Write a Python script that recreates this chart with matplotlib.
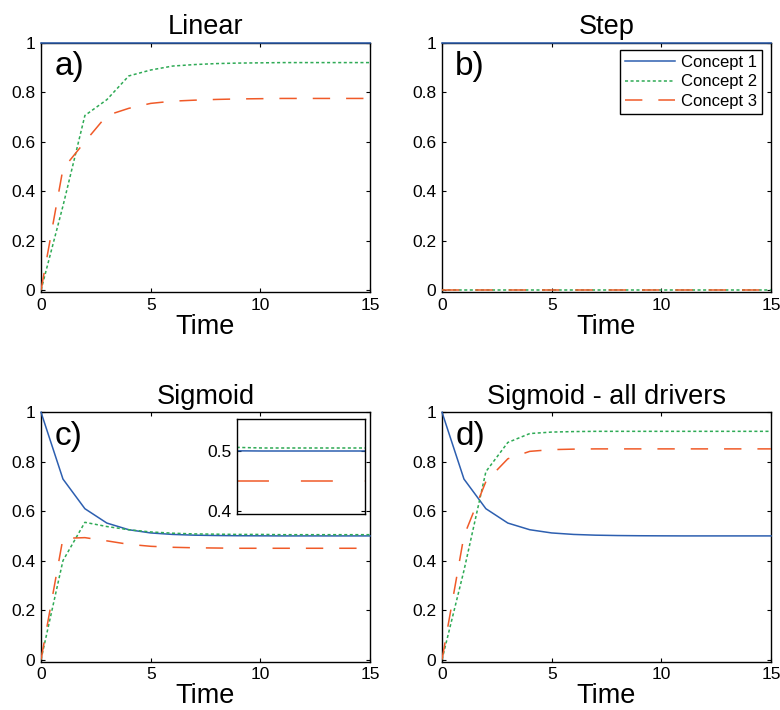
import numpy as np
import matplotlib
matplotlib.use('Agg')
import matplotlib.pyplot as plt

# ---------------------------------------------
# datos
# ---------------------------------------------
time = np.arange(0, 16)

lin_c1 = [1.0] * 16
lin_c2 = [0, 0.34, 0.706, 0.77, 0.866, 0.89, 0.906, 0.912, 0.916, 0.918, 0.919, 0.92, 0.92, 0.92, 0.92, 0.92]
lin_c3 = [0, 0.49, 0.60, 0.706, 0.735, 0.755, 0.764, 0.768, 0.771, 0.773, 0.774, 0.775, 0.775, 0.775, 0.775, 0.775]

step_c1 = [1.0] * 16
step_c2 = [0.0] * 16
step_c3 = [0.0] * 16

sig_c1 = [1.0, 0.73, 0.61, 0.552, 0.525, 0.512, 0.506, 0.503, 0.5015, 0.5007, 0.5003, 0.5, 0.5, 0.5, 0.5, 0.5]
sig_c2 = [0, 0.40, 0.555, 0.538, 0.525, 0.516, 0.511, 0.508, 0.507, 0.506, 0.506, 0.505, 0.505, 0.505, 0.505, 0.505]
sig_c3 = [0, 0.49, 0.493, 0.48, 0.466, 0.458, 0.454, 0.452, 0.451, 0.45, 0.45, 0.45, 0.45, 0.45, 0.45, 0.45]

all_c1 = sig_c1
all_c2 = [0, 0.36, 0.76, 0.878, 0.914, 0.92, 0.922, 0.923, 0.923, 0.923, 0.923, 0.923, 0.923, 0.923, 0.923, 0.923]
all_c3 = [0, 0.50, 0.72, 0.812, 0.842, 0.849, 0.851, 0.852, 0.852, 0.852, 0.852, 0.852, 0.852, 0.852, 0.852, 0.852]

titles = ['Linear', 'Step', 'Sigmoid', 'Sigmoid - all drivers']
labels = ['a)', 'b)', 'c)', 'd)']
series = [(lin_c1, lin_c2, lin_c3), (step_c1, step_c2, step_c3),
          (sig_c1, sig_c2, sig_c3), (all_c1, all_c2, all_c3)]
legend_names = ['Concept 1', 'Concept 2', 'Concept 3']

x_ticks = [0, 5, 10, 15]
y_ticks = [0, 0.2, 0.4, 0.6, 0.8, 1]
inset_ticks = [0.4, 0.5]

# ---------------------------------------------
# estilo
# ---------------------------------------------
plt.rcParams['font.family'] = ['Liberation Sans', 'DejaVu Sans']
plt.rcParams['lines.scale_dashes'] = False

col1 = '#2d5fb0'
col2 = '#2eaa55'
col3 = '#f05a28'
dots = (0, (2.2, 1.8))
dash = (0, (12.5, 11.5))


def style_axis(ax):
    ax.tick_params(direction='in', length=3, width=0.8, top=True, right=True,
                   labelsize=12.5, pad=4)
    for sp in ax.spines.values():
        sp.set_linewidth(1.0)


fig = plt.figure(figsize=(7.8, 7.1), dpi=100)

pos = [(0.0526, 0.5887), (0.5667, 0.5887), (0.0526, 0.0683), (0.5667, 0.0683)]
w, h = 0.4218, 0.351

axes = []
for i in range(4):
    ax = fig.add_axes([pos[i][0], pos[i][1], w, h])
    c1, c2, c3 = series[i]
    ax.plot(time, c1, color=col1, lw=1.1, label=legend_names[0], zorder=3, clip_on=False)
    ax.plot(time, c2, color=col2, lw=1.1, linestyle=dots, label=legend_names[1], zorder=3)
    ax.plot(time, c3, color=col3, lw=1.1, linestyle=dash, label=legend_names[2], zorder=3)
    ax.set_xlim(0, 15)
    ax.set_ylim(-0.008, 1.0)
    ax.set_xticks(x_ticks)
    ax.set_yticks(y_ticks)
    ax.set_yticklabels([f'{v:g}' for v in y_ticks])
    ax.set_title(titles[i], fontsize=19.5, pad=6)
    ax.set_xlabel('Time', fontsize=19.5, labelpad=1)
    ax.text(0.04, 0.87, labels[i], transform=ax.transAxes, fontsize=24,
            va='baseline', ha='left')
    style_axis(ax)
    axes.append(ax)

leg = axes[1].legend(loc='upper right', bbox_to_anchor=(0.972, 0.97),
                     borderaxespad=0, fontsize=12, handlelength=3.0,
                     handletextpad=0.35, labelspacing=0.25, borderpad=0.3,
                     fancybox=False, framealpha=1)
leg.get_frame().set_edgecolor('black')
leg.get_frame().set_linewidth(1.0)

# recuadro ampliado en el panel c (solo el tramo final)
ins = fig.add_axes([0.3035, 0.2756, 0.1645, 0.1342])
ins.plot(time[10:], sig_c1[10:], color=col1, lw=1.1)
ins.plot(time[10:], sig_c2[10:], color=col2, lw=1.1, linestyle=dots)
ins.plot(time[10:], sig_c3[10:], color=col3, lw=1.1, linestyle=(0, (23, 23)))
ins.set_xlim(10, 15)
ins.set_ylim(0.395, 0.553)
ins.set_xticks([])
ins.set_yticks(inset_ticks)
ins.set_yticklabels([f'{v:g}' for v in inset_ticks])
style_axis(ins)

fig.savefig('out.png', dpi=100)
